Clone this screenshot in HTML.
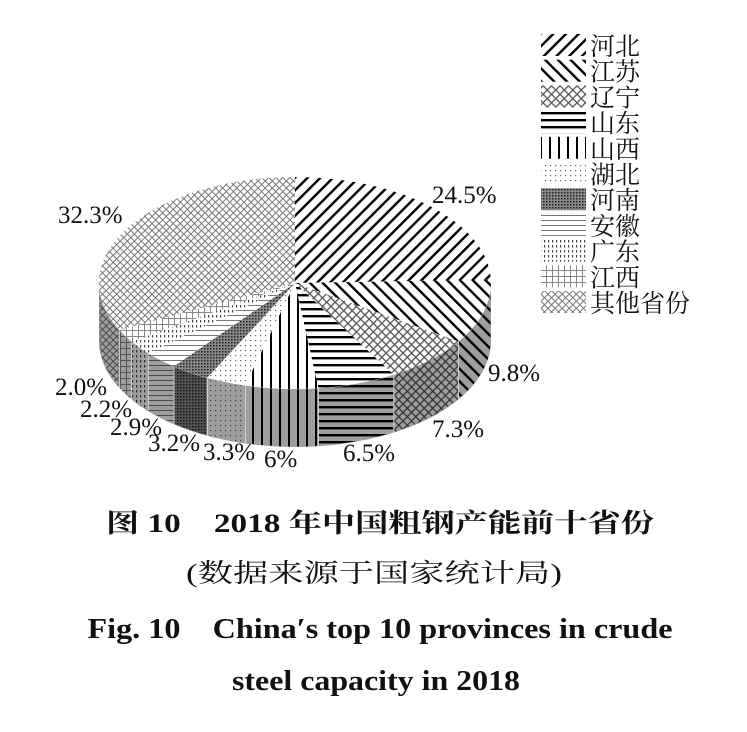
<!DOCTYPE html>
<html><head><meta charset="utf-8"><style>
html,body{margin:0;padding:0;background:#fff;}
svg{display:block;}
</style></head><body>
<svg id="s" width="747" height="732" viewBox="0 0 747 732" xmlns="http://www.w3.org/2000/svg">
<defs>
<pattern id="p0" width="9" height="9" patternUnits="userSpaceOnUse" patternTransform="rotate(45)"><rect width="9" height="9" fill="#fff"/><rect x="0" width="2.4" height="9" fill="#000"/></pattern>
<pattern id="p1" width="9" height="9" patternUnits="userSpaceOnUse" patternTransform="rotate(-45)"><rect width="9" height="9" fill="#fff"/><rect x="0" width="2.4" height="9" fill="#000"/></pattern>
<pattern id="p2" width="6" height="6" patternUnits="userSpaceOnUse" patternTransform="rotate(45)"><rect width="6" height="6" fill="#fff"/><rect width="1.3" height="6" fill="#555"/><rect width="6" height="1.3" fill="#555"/></pattern>
<pattern id="p3" width="8" height="7" patternUnits="userSpaceOnUse"><rect width="8" height="7" fill="#fff"/><rect width="8" height="2.4" fill="#000"/></pattern>
<pattern id="p4" width="9" height="8" patternUnits="userSpaceOnUse"><rect width="9" height="8" fill="#fff"/><rect width="2" height="8" fill="#000"/></pattern>
<pattern id="p5" width="5" height="5" patternUnits="userSpaceOnUse"><rect width="5" height="5" fill="#fff"/><rect width="1.2" height="1.2" fill="#666"/></pattern>
<pattern id="p6" width="3" height="3" patternUnits="userSpaceOnUse"><rect width="3" height="3" fill="#888"/><rect width="1.5" height="1.5" fill="#222"/></pattern>
<pattern id="p7" width="6" height="5" patternUnits="userSpaceOnUse"><rect width="6" height="5" fill="#fff"/><rect width="6" height="1" fill="#777"/></pattern>
<pattern id="p8" width="4" height="5" patternUnits="userSpaceOnUse"><rect width="4" height="5" fill="#fff"/><rect width="1.2" height="2.5" fill="#444"/></pattern>
<pattern id="p9" width="6" height="6" patternUnits="userSpaceOnUse"><rect width="6" height="6" fill="#fff"/><rect width="1" height="6" fill="#888"/><rect width="6" height="1" fill="#888"/></pattern>
<pattern id="p10" width="5" height="5" patternUnits="userSpaceOnUse" patternTransform="rotate(45)"><rect width="5" height="5" fill="#fff"/><rect width="1" height="5" fill="#777"/><rect width="5" height="1" fill="#777"/></pattern>
</defs>
<g id="pie"></g>
<g font-family="Liberation Serif, serif" font-size="25" fill="#111">
<text x="432" y="203">24.5%</text>
<text x="58" y="223">32.3%</text>
<text x="488" y="381">9.8%</text>
<text x="432" y="437">7.3%</text>
<text x="343" y="461">6.5%</text>
<text x="264" y="467">6%</text>
<text x="203" y="460">3.3%</text>
<text x="148" y="451">3.2%</text>
<text x="110" y="435">2.9%</text>
<text x="80" y="417">2.2%</text>
<text x="55" y="395">2.0%</text>
</g>
<g id="leg" font-family="Liberation Serif, 'Noto Serif CJK SC', serif" font-size="25" fill="#111"></g>
<g font-family="Liberation Serif, 'Noto Serif CJK SC', serif" font-weight="bold" fill="#111" text-anchor="middle">
<text x="380" y="532" font-size="26" textLength="548" lengthAdjust="spacingAndGlyphs">图 10　2018 年中国粗钢产能前十省份</text>
<text x="374" y="582" font-size="26" font-weight="normal" textLength="376" lengthAdjust="spacingAndGlyphs">(数据来源于国家统计局)</text>
<text x="380" y="638" font-size="28" textLength="585" lengthAdjust="spacingAndGlyphs">Fig. 10　China′s top 10 provinces in crude</text>
<text x="376" y="690" font-size="28" textLength="288" lengthAdjust="spacingAndGlyphs">steel capacity in 2018</text>
</g>
</svg>
<script>
var cx=295,cy=283,rx=196,ry=106,d=58;
var pct=[24.5,9.8,7.3,6.5,6,3.3,3.2,2.9,2.2,2.0,32.3];
var names=["河北","江苏","辽宁","山东","山西","湖北","河南","安徽","广东","江西","其他省份"];
function P(t,dy){var r=t*Math.PI/180;return [cx+rx*Math.sin(r),cy-ry*Math.cos(r)+(dy||0)];}
var g=document.getElementById('pie'),a=0,sides='',tops='';
for(var i=0;i<pct.length;i++){
  var b=a+pct[i]*3.6;
  var s=Math.max(a,90),e=Math.min(b,270);
  if(e>s){
    var p1=P(s),p2=P(e),p3=P(e,d),p4=P(s,d);
    var path='M'+p1+' A'+rx+' '+ry+' 0 0 1 '+p2+' L'+p3+' A'+rx+' '+ry+' 0 0 0 '+p4+' Z';
    sides+='<path d="'+path+'" fill="url(#p'+i+')" stroke="#fff" stroke-width="1"/><path d="'+path+'" fill="rgba(0,0,0,0.38)"/>';
  }
  var q1=P(a),q2=P(b),lg=(b-a)>180?1:0;
  tops+='<path d="M'+cx+','+cy+' L'+q1+' A'+rx+' '+ry+' 0 '+lg+' 1 '+q2+' Z" fill="url(#p'+i+')"/>';
  a=b;
}
g.innerHTML=sides+tops;
var L=document.getElementById('leg'),lh='';
for(var i=0;i<11;i++){var y=33+i*25.7;
 lh+='<rect x="541" y="'+(y+1)+'" width="45" height="22" fill="url(#p'+i+')"/>';
 lh+='<text x="590" y="'+(y+22)+'">'+names[i]+'</text>';}
L.innerHTML=lh;
</script>
</body></html>
